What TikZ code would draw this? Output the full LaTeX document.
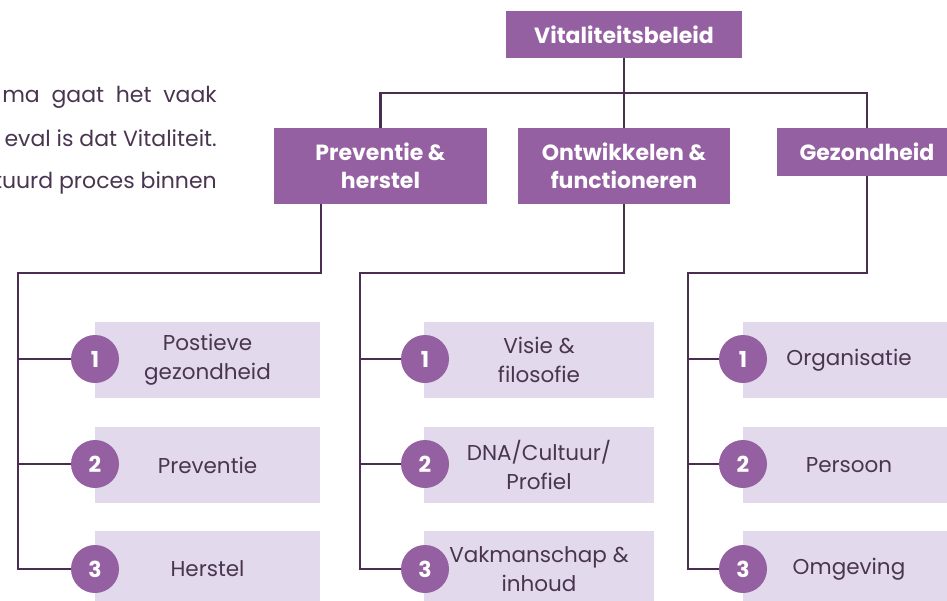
\documentclass[tikz,border=0pt]{standalone}
\usepackage{fontspec}
\setmainfont{Poppins}
\usetikzlibrary{positioning}
\definecolor{paars}{HTML}{9460A2}
\definecolor{lila}{HTML}{E2D9EC}
\definecolor{lijn}{HTML}{4A2E52}
\definecolor{tekst}{HTML}{4A3550}
\begin{document}
\begin{tikzpicture}
  [x=1pt,y=-1pt,
   kop/.style={fill=paars,text=white,font=\bfseries\fontsize{22}{28}\selectfont,align=center,inner sep=0pt},
   blok/.style={fill=lila,text=tekst,font=\fontsize{21.5}{29}\selectfont,align=center,minimum height=76pt,inner sep=0pt},
   nummer/.style={circle,fill=paars,text=white,font=\bfseries\fontsize{22}{22}\selectfont,minimum size=48pt,inner sep=0pt},
   intro/.style={anchor=east,text=tekst,font=\fontsize{22}{22}\selectfont,inner sep=0pt},
   tak/.style={draw=lijn,line width=2.5pt}]
\useasboundingbox (0,0) rectangle (947,600);
\clip (0,0) rectangle (947,600);

\node [intro] (r1) at (217,97)  {ma\ \ gaat\ \ het\ \ vaak};
\node [intro] (r2) at (217,138) {eval is dat Vitaliteit.};
\node [intro] (r3) at (217,183) {tuurd proces binnen};

\node [kop,minimum width=236pt,minimum height=47pt] (top) at (624,34.5) {Vitaliteitsbeleid};
\node [kop,minimum width=213pt,minimum height=76pt] (pre) at (380.5,166) {Preventie \&\\herstel};
\node [kop,minimum width=212pt,minimum height=76pt] (ont) at (624,166) {Ontwikkelen \&\\functioneren};
\node [kop,minimum width=180pt,minimum height=48pt] (gez) at (867,152) {Gezondheid};

\node [blok,minimum width=225pt] (b11) at (207.5,360) {Postieve\\gezondheid};
\node [blok,minimum width=225pt] (b12) at (207.5,465) {Preventie};
\node [blok,minimum width=225pt] (b13) at (207.5,569) {Herstel};
\node [blok,minimum width=230pt] (b21) at (539,360) {Visie \&\\filosofie};
\node [blok,minimum width=230pt] (b22) at (539,465) {DNA/Cultuur/\\Profiel};
\node [blok,minimum width=230pt] (b23) at (539,569) {Vakmanschap \&\\inhoud};
\node [blok,minimum width=212pt] (b31) at (849,360) {Organisatie};
\node [blok,minimum width=212pt] (b32) at (849,465) {Persoon};
\node [blok,minimum width=212pt] (b33) at (849,569) {Omgeving};

\foreach \r/\y in {1/359,2/464,3/569} {
  \node [nummer] (n1\r) at (95,\y)  {\r};
  \node [nummer] (n2\r) at (425,\y) {\r};
  \node [nummer] (n3\r) at (743,\y) {\r};
}

\coordinate (balk) at (624,93);
\coordinate (h1) at (18,273);
\coordinate (h2) at (360,273);
\coordinate (h3) at (688,273);

\draw [tak] (top) -- (ont);
\draw [tak] (pre.north) |- (balk) -| (gez.north);
\draw [tak] ([xshift=-59.5pt]pre.south) |- (h1) |- (n13);
\draw [tak] (ont.south) |- (h2) |- (n23);
\draw [tak] (gez.south) |- (h3) |- (n33);
\foreach \k in {1,2,3}
  \foreach \r in {1,2}
    \draw [tak] (n\k\r) -- (n\k\r -| h\k);
\end{tikzpicture}
\end{document}
